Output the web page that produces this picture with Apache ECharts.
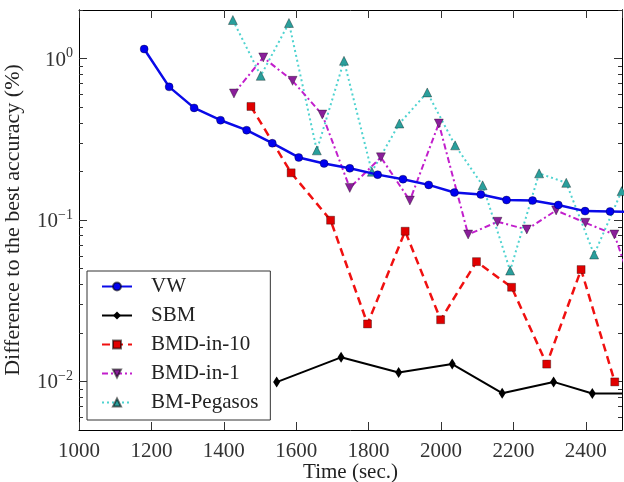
<!DOCTYPE html>
<html>
<head>
<meta charset="utf-8">
<script src="https://cdn.jsdelivr.net/npm/echarts@6/dist/echarts.min.js"></script>
<style>
  html, body { margin: 0; padding: 0; background: #fff; }
  #chart { width: 624px; height: 482px; }
</style>
</head>
<body>
<div id="chart"></div>
<script>
// data (time in sec., difference in %)
var vwTime = [1180, 1249, 1318, 1391, 1463, 1534, 1607, 1677, 1748, 1825, 1895, 1966, 2037, 2110, 2181, 2253, 2324, 2398, 2467, 2540];
var vwDiff = [1.146, 0.668, 0.495, 0.415, 0.360, 0.299, 0.244, 0.224, 0.209, 0.191, 0.179, 0.165, 0.148, 0.144, 0.133, 0.132, 0.124, 0.1135, 0.113, 0.112];

var sbmTime = [1546, 1724, 1883, 2031, 2169, 2311, 2418, 2620];
var sbmDiff = [0.0099, 0.0141, 0.01135, 0.0128, 0.00845, 0.00993, 0.00842, 0.00842];

var bmd10Time = [1475, 1586, 1695, 1797, 1901, 1999, 2098, 2195, 2292, 2387, 2480];
var bmd10Diff = [0.505, 0.196, 0.0997, 0.0227, 0.0852, 0.0241, 0.0552, 0.0383, 0.0128, 0.0493, 0.00993];

var bmd1Time = [1428, 1509, 1590, 1672, 1748, 1834, 1914, 1994, 2075, 2156, 2237, 2318, 2399, 2479, 2558];
var bmd1Diff = [0.608, 1.017, 0.728, 0.450, 0.158, 0.2445, 0.132, 0.396, 0.0813, 0.0975, 0.0873, 0.1146, 0.0961, 0.0813, 0.0244];

var pegTime = [1425, 1502, 1580, 1657, 1732, 1809, 1885, 1962, 2039, 2115, 2191, 2271, 2346, 2423, 2499];
var pegDiff = [1.734, 0.782, 1.662, 0.270, 0.969, 0.199, 0.396, 0.617, 0.290, 0.164, 0.0486, 0.1945, 0.170, 0.0611, 0.151];

var yMajor = [0.01, 0.1, 1];
var yMinor = [0.006, 0.007, 0.008, 0.009, 0.02, 0.03, 0.04, 0.05, 0.06, 0.07, 0.08, 0.09,
              0.2, 0.3, 0.4, 0.5, 0.6, 0.7, 0.8, 0.9, 2];

var FONT = 'Liberation Serif';

function zip(xs, ys) {
    return xs.map(function (x, i) { return [x, ys[i]]; });
}

function expLabel(v) {
    var e = Math.round(Math.log10(v));
    return '{b|10}{s|' + (e < 0 ? '\u2212' + (-e) : e) + '}';
}

// one log y axis; minor=true gives the short unlabeled ticks
function yAx(pos, minor) {
    return {
        type: 'log',
        logBase: 10,
        position: pos,
        min: 0.005,
        max: 2,
        axisLine: { show: true, lineStyle: { color: '#000', width: 1 } },
        splitLine: { show: false },
        axisTick: {
            show: true, inside: true,
            length: minor ? 4 : 8,
            customValues: minor ? yMinor : yMajor,
            lineStyle: { color: '#333', width: 1 }
        },
        axisLabel: {
            show: pos === 'left' && !minor,
            customValues: yMajor,
            formatter: expLabel,
            margin: 6,
            color: '#333',
            rich: {
                b: { fontFamily: FONT, fontSize: 21, color: '#333', verticalAlign: 'bottom' },
                s: { fontFamily: FONT, fontSize: 14, color: '#333', verticalAlign: 'top', padding: [0, 0, 10, 0] }
            }
        },
        name: (pos === 'left' && !minor) ? 'Difference to the best accuracy (%)' : '',
        nameLocation: 'middle',
        nameGap: 55,
        nameTextStyle: { fontFamily: FONT, fontSize: 22, color: '#222' }
    };
}

function xAx(pos) {
    return {
        type: 'value',
        position: pos,
        min: 1000,
        max: 2500,
        interval: 200,
        axisLine: { show: true, lineStyle: { color: '#000', width: 1 } },
        splitLine: { show: false },
        axisTick: { show: true, inside: true, length: 8, lineStyle: { color: '#333' } },
        axisLabel: {
            show: pos === 'bottom',
            showMaxLabel: false,
            formatter: function (v) { return String(v); },
            margin: 11,
            fontFamily: FONT,
            fontSize: 21,
            color: '#333'
        },
        name: pos === 'bottom' ? 'Time (sec.)' : '',
        nameLocation: 'middle',
        nameGap: 32,
        nameMoveOverlap: false,
        nameTextStyle: { fontFamily: FONT, fontSize: 21, color: '#222' }
    };
}

var markEdge = { borderColor: 'rgba(0,0,0,0.55)', borderWidth: 0.6 };

var myChart = echarts.init(document.getElementById('chart'));
var option = {
    animation: false,
    backgroundColor: '#fff',
    grid: { left: 79, right: 2, top: 10, bottom: 52, show: false, outerBoundsMode: 'none' },
    xAxis: [xAx('bottom'), xAx('top')],
    yAxis: [yAx('left', false), yAx('left', true), yAx('right', false), yAx('right', true)],
    legend: {
        orient: 'vertical',
        left: 87,
        top: 271,
        padding: [5, 12, 7, 14],
        itemWidth: 30,
        itemHeight: 10,
        itemGap: 8,
        borderColor: '#333',
        borderWidth: 1,
        backgroundColor: '#fff',
        textStyle: { fontFamily: FONT, fontSize: 21, color: '#222', padding: [0, 0, 0, 14] },
        data: ['VW', 'SBM', 'BMD-in-10', 'BMD-in-1', 'BM-Pegasos']
    },
    series: [
        {
            name: 'BM-Pegasos', type: 'line', z: 2,
            data: zip(pegTime, pegDiff),
            symbol: 'triangle', symbolSize: 9,
            lineStyle: { color: '#4fd3d0', width: 2, type: [2, 3] },
            itemStyle: Object.assign({ color: '#2a9f9c' }, markEdge)
        },
        {
            name: 'BMD-in-1', type: 'line', z: 3,
            data: zip(bmd1Time, bmd1Diff),
            symbol: 'triangle', symbolRotate: 180, symbolSize: 9,
            lineStyle: { color: '#c21fcc', width: 2, type: [6, 3, 2, 3] },
            itemStyle: Object.assign({ color: '#8a1f9a' }, markEdge)
        },
        {
            name: 'BMD-in-10', type: 'line', z: 4,
            data: zip(bmd10Time, bmd10Diff),
            symbol: 'rect', symbolSize: 8,
            lineStyle: { color: '#f01010', width: 2.5, type: [8, 5] },
            itemStyle: Object.assign({ color: '#e00000' }, markEdge)
        },
        {
            name: 'SBM', type: 'line', z: 5,
            data: zip(sbmTime, sbmDiff),
            symbol: 'diamond', symbolSize: [7, 11],
            lineStyle: { color: '#000', width: 2 },
            itemStyle: { color: '#000' }
        },
        {
            name: 'VW', type: 'line', z: 6,
            data: zip(vwTime, vwDiff),
            symbol: 'circle', symbolSize: 8,
            lineStyle: { color: '#0a0ae8', width: 2.5 },
            itemStyle: Object.assign({ color: '#0000f0' }, markEdge)
        }
    ]
};
myChart.setOption(option);
</script>
</body>
</html>
